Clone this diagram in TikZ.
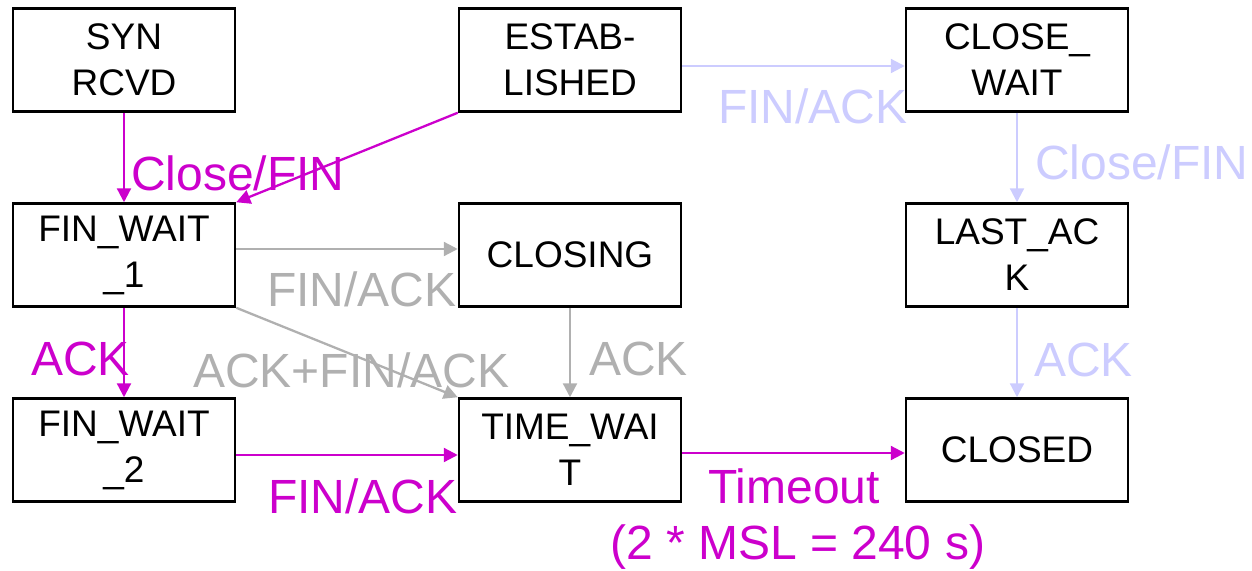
\documentclass[tikz,border=0pt]{standalone}
\usepackage{fontspec}
\setmainfont{Liberation Sans}
\usetikzlibrary{arrows.meta}
\definecolor{mag}{RGB}{204,0,204}
\definecolor{gry}{RGB}{176,176,176}
\definecolor{lav}{RGB}{204,204,255}
\begin{document}
\begin{tikzpicture}[x=1pt,y=-1pt,
  state/.style={draw=black, line width=2.5pt, minimum width=222pt, minimum height=103pt,
    inner sep=0pt, align=center, font=\fontsize{37}{46}\selectfont},
  lbl/.style={anchor=base west, inner sep=0pt, font=\fontsize{48}{56}\selectfont},
  tr/.style={line width=2.3pt, -{Triangle[length=14pt,width=14pt]}},
]
\useasboundingbox (0,0) rectangle (1252,570);

\node[state] (syn)     at (124,60)  {SYN\\RCVD};
\node[state] (est)     at (570,60)  {ESTAB-\\LISHED};
\node[state] (cw)      at (1017,60) {CLOSE\_\\WAIT};
\node[state] (fw1)     at (124,255) {FIN\_WAIT\\\_1};
\node[state] (closing) at (570,255) {CLOSING};
\node[state] (la)      at (1017,255) {LAST\_AC\\K};
\node[state] (fw2)     at (124,450) {FIN\_WAIT\\\_2};
\node[state] (tw)      at (570,450) {TIME\_WAI\\T};
\node[state] (closed)  at (1017,450) {CLOSED};

% magenta transitions
\draw[tr, mag] (syn.south) -- (fw1.north);
\draw[tr, mag] (est.south west) -- (fw1.north east);
\draw[tr, mag] (fw1.south) -- (fw2.north);
\draw[tr, mag] ([yshift=-5pt]fw2.east) -- ([yshift=-5pt]tw.west);
\draw[tr, mag] ([yshift=-3pt]tw.east) -- ([yshift=-3pt]closed.west);

% gray transitions
\draw[tr, gry] ([yshift=6pt]fw1.east) -- ([yshift=6pt]closing.west);
\draw[tr, gry] (fw1.south east) -- (tw.north west);
\draw[tr, gry] (closing.south) -- (tw.north);

% lavender transitions
\draw[tr, lav] ([yshift=-6pt]est.east) -- ([yshift=-6pt]cw.west);
\draw[tr, lav] (cw.south) -- (la.north);
\draw[tr, lav] (la.south) -- (closed.north);

% labels
\node[lbl, text=mag] (l1) at (131,190) {Close/FIN};
\node[lbl, text=mag] (l2) at (31,375) {ACK};
\node[lbl, text=mag] (l3) at (268,513) {FIN/ACK};
\node[lbl, text=mag] (l4) at (708,503) {Timeout};
\node[lbl, text=mag] (l5) at (610,559) {(2 * MSL = 240 s)};
\node[lbl, text=gry] (l6) at (267,306) {FIN/ACK};
\node[lbl, text=gry] (l7) at (193,387) {ACK+FIN/ACK};
\node[lbl, text=gry] (l8) at (589,375) {ACK};
\node[lbl, text=lav] (l9) at (718,123) {FIN/ACK};
\node[lbl, text=lav] (l10) at (1035,179) {Close/FIN};
\node[lbl, text=lav] (l11) at (1034,376) {ACK};
\end{tikzpicture}
\end{document}
